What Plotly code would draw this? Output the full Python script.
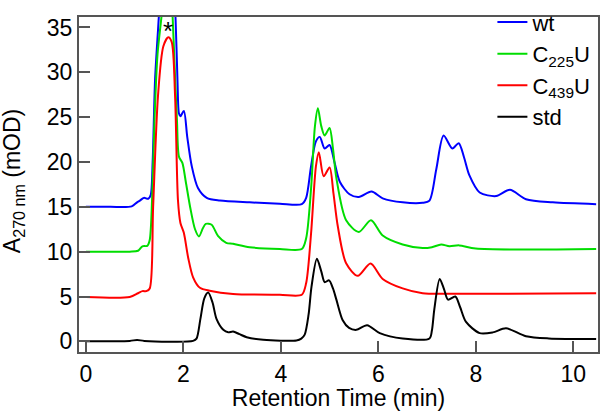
import plotly.graph_objects as go

# ---------------- data ----------------
wt_time = [0.0, 0.5, 0.94, 1.05, 1.11, 1.19, 1.28, 1.33, 1.37, 1.42, 1.50, 1.58, 1.67, 1.76, 1.84, 1.88,
           1.91, 1.94, 2.01, 2.08, 2.17, 2.30, 2.48, 2.75, 3.36, 3.98, 4.43, 4.52, 4.62, 4.72, 4.80,
           4.90, 5.00, 5.10, 5.21, 5.41, 5.60, 5.86, 6.09, 6.50, 6.91, 7.05, 7.19, 7.34, 7.52, 7.65,
           7.76, 7.87, 8.08, 8.42, 8.70, 9.03, 9.58, 10.47]
wt_abs = [15.0, 15.0, 15.05, 15.5, 15.7, 16.0, 15.9, 16.3, 20.0, 29.2, 36.5, 45.0, 50.0, 45.0, 36.0, 29.0,
          25.4, 25.1, 25.7, 22.8, 19.6, 17.1, 16.0, 15.7, 15.5, 15.35, 15.3, 16.0, 19.5, 22.3, 22.8,
          21.5, 21.9, 20.0, 17.8, 16.4, 16.1, 16.7, 15.95, 15.5, 15.45, 15.7, 19.2, 22.95, 21.5, 22.1,
          20.5, 18.5, 16.6, 16.2, 16.9, 15.85, 15.5, 15.3]

c225_time = [0.0, 0.9, 1.07, 1.16, 1.26, 1.31, 1.36, 1.41, 1.47, 1.565, 1.66, 1.74, 1.78, 1.83, 1.87,
             1.91, 1.98, 2.05, 2.14, 2.24, 2.32, 2.40, 2.46, 2.58, 2.71, 2.88, 3.02, 3.36, 3.98, 4.43,
             4.52, 4.62, 4.70, 4.76, 4.83, 4.90, 5.00, 5.07, 5.14, 5.34, 5.60, 5.85, 6.09, 6.50, 6.91,
             7.10, 7.29, 7.46, 7.66, 8.00, 10.47]
c225_abs = [10.0, 10.0, 10.1, 10.6, 10.65, 11.3, 16.0, 25.0, 32.0, 37.0, 45.0, 40.0, 36.2, 29.5, 24.5,
            20.6, 19.9, 17.8, 14.96, 12.5, 11.7, 12.6, 13.1, 13.0, 11.76, 10.98, 10.87, 10.5, 10.3, 10.3,
            11.5, 17.0, 24.0, 26.0, 24.0, 22.95, 23.8, 21.5, 18.2, 13.5, 12.2, 13.5, 11.8, 10.8, 10.4,
            10.5, 10.8, 10.6, 10.7, 10.35, 10.3]

c439_time = [0.0, 0.9, 1.07, 1.16, 1.24, 1.31, 1.38, 1.48, 1.59, 1.69, 1.76, 1.83, 1.89, 1.94, 2.01,
             2.10, 2.20, 2.34, 2.54, 3.02, 3.98, 4.43, 4.52, 4.62, 4.72, 4.78, 4.88, 5.00, 5.08, 5.17,
             5.34, 5.58, 5.84, 6.09, 6.50, 6.91, 7.50, 10.47]
c439_abs = [4.95, 4.95, 5.36, 5.6, 5.6, 5.9, 15.0, 27.4, 32.9, 33.9, 33.4, 27.4, 15.7, 13.2, 12.1,
            9.3, 7.14, 5.97, 5.65, 5.29, 5.2, 5.2, 6.5, 12.0, 19.5, 21.1, 18.4, 19.4, 16.5, 12.8,
            8.7, 7.3, 8.67, 6.96, 5.9, 5.36, 5.3, 5.35]

std_time = [0.0, 0.9, 1.05, 1.2, 2.2, 2.27, 2.35, 2.43, 2.51, 2.60, 2.68, 2.82, 2.92, 3.02, 3.15, 3.30,
            3.64, 4.32, 4.42, 4.49, 4.57, 4.63, 4.74, 4.83, 4.90, 4.99, 5.07, 5.14, 5.27, 5.40, 5.55,
            5.77, 6.03, 6.50, 7.05, 7.10, 7.15, 7.26, 7.35, 7.43, 7.58, 7.68, 7.80, 8.08, 8.35, 8.62,
            9.03, 9.50, 10.47]
std_abs = [0.0, 0.05, 0.15, 0.05, 0.05, 0.3, 2.5, 4.8, 5.44, 4.3, 2.5, 1.28, 1.0, 1.1, 0.8, 0.46,
           0.17, 0.1, 0.3, 0.75, 3.0, 6.1, 9.2, 7.8, 6.6, 6.8, 5.9, 4.65, 2.35, 1.5, 1.28,
           1.8, 0.92, 0.32, 0.32, 1.2, 3.6, 6.96, 5.8, 4.65, 5.0, 3.8, 2.16, 0.92, 1.0, 1.45,
           0.57, 0.32, 0.25]

series_names = ["wt", "C<sub>225</sub>U", "C<sub>439</sub>U", "std"]
series_colors = ["#0000ff", "#00dd00", "#ff0000", "#000000"]
x_ticks = [0, 2, 4, 6, 8, 10]
y_ticks = [0, 5, 10, 15, 20, 25, 30, 35]
peak_mark = {"x": 1.68, "y": 34.9, "text": "*"}

# ---------------- figure ----------------
FONT = "Arial, Liberation Sans, Helvetica, sans-serif"
fig = go.Figure()
for t, a, name, col in zip([wt_time, c225_time, c439_time, std_time],
                           [wt_abs, c225_abs, c439_abs, std_abs],
                           series_names, series_colors):
    fig.add_trace(go.Scatter(x=t, y=a, mode="lines", name=name,
                             line=dict(color=col, width=2, shape="spline", smoothing=0.8)))

fig.add_annotation(x=peak_mark["x"], y=peak_mark["y"], text=peak_mark["text"], showarrow=False,
                   font=dict(family=FONT, size=26, color="black"), yanchor="middle", yshift=-3)

# y-axis title as rotated text placed beside the tick labels
fig.add_annotation(xref="paper", yref="paper", x=0, y=0.51, xshift=-66,
                   text="A<sub>270 nm</sub> (mOD)", textangle=-90, showarrow=False,
                   xanchor="center", yanchor="middle",
                   font=dict(family=FONT, size=23, color="black"))

axis_common = dict(showgrid=False, zeroline=False, showline=True, linecolor="#555555",
                   linewidth=2, mirror=True, ticks="inside", ticklen=11, tickwidth=1.5,
                   tickcolor="#555555", tickfont=dict(family=FONT, size=23, color="black"))

fig.update_xaxes(range=[-0.141, 10.508], tickvals=x_ticks,
                 title=dict(text="Retention Time (min)", font=dict(family=FONT, size=23, color="black"),
                            standoff=2),
                 **axis_common)
fig.update_yaxes(range=[-1.19, 36.17], tickvals=y_ticks, **axis_common)

fig.update_layout(width=600, height=411, margin=dict(l=79, r=2, t=1, b=59),
                  plot_bgcolor="white", paper_bgcolor="white",
                  font=dict(family=FONT, color="black"),
                  showlegend=True,
                  legend=dict(x=0.995, xanchor="right", y=1.047, yanchor="top",
                              bgcolor="rgba(0,0,0,0)", font=dict(family=FONT, size=22),
                              tracegroupgap=0, itemwidth=30))

fig.write_html("out.html", config={"displayModeBar": False},
               post_script="document.body.style.margin='0';document.body.style.padding='0';")
